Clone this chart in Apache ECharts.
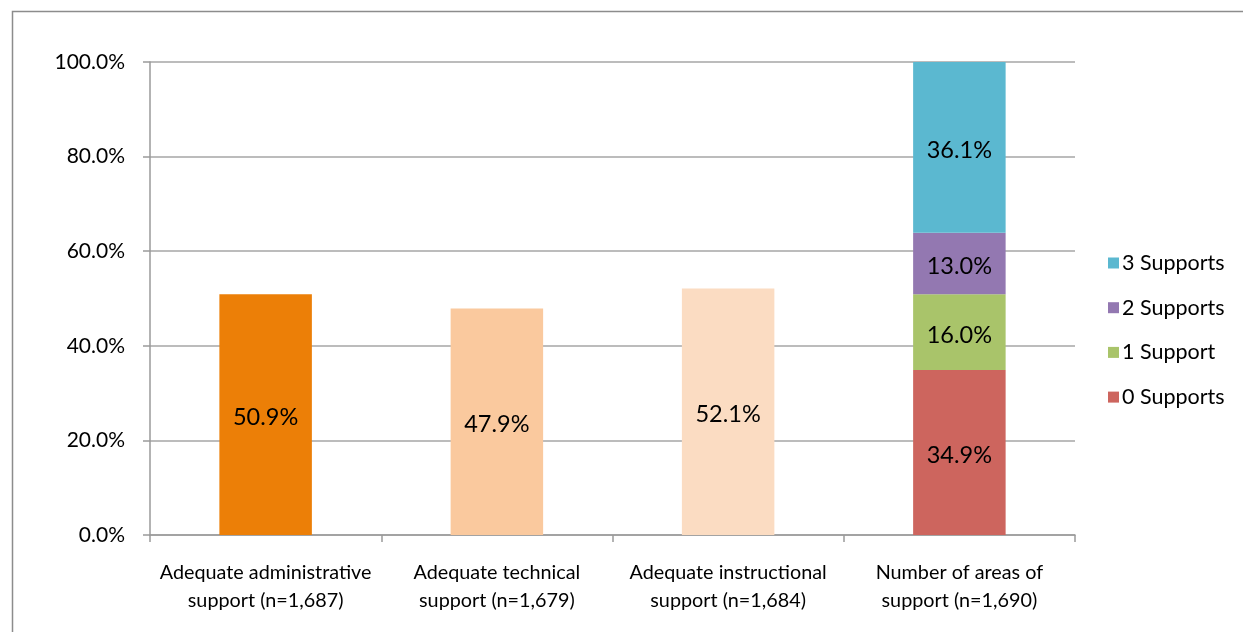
<!DOCTYPE html>
<html>
<head>
<meta charset="utf-8">
<script src="https://cdn.jsdelivr.net/npm/echarts@6/dist/echarts.min.js"></script>
<style>
  html, body { margin: 0; padding: 0; background: #fff; }
  #chart { width: 1243px; height: 632px; }
</style>
</head>
<body>
<div id="chart"></div>
<script>
// Categories along the x axis
const categories = [
  'Adequate administrative\nsupport (n=1,687)',
  'Adequate technical\nsupport (n=1,679)',
  'Adequate instructional\nsupport (n=1,684)',
  'Number of areas of\nsupport (n=1,690)'
];

// Single-bar percentages for the three "adequate support" categories
const adequateValues = [50.9, 47.9, 52.1];
const adequateColors = ['#EC7F07', '#FAC99E', '#FBDCC2'];

// Stacked breakdown for the number of areas of support
const supportNames = ['0 Supports', '1 Support', '2 Supports', '3 Supports'];
const supportValues = [34.9, 16.0, 13.0, 36.1];
const supportColors = ['#CD655E', '#A9C46A', '#9378B1', '#5BB8D0'];

// Y axis ticks
const yMin = 0, yMax = 100, yStep = 20;

const fontFamily = 'Lato, "Open Sans", sans-serif';
const labelStyle = {
  show: true,
  position: 'inside',
  offset: [0, 3],
  color: '#000',
  fontSize: 23.5,
  fontFamily: fontFamily,
  formatter: p => p.value.toFixed(1) + '%'
};

const series = [{
  name: 'Adequate',
  type: 'bar',
  stack: 'all',
  barWidth: '40%',
  label: labelStyle,
  data: adequateValues.map((v, i) => ({ value: v, itemStyle: { color: adequateColors[i] } }))
    .concat(['-'])
}];
supportNames.forEach((name, i) => {
  const data = categories.map((c, j) => j === categories.length - 1 ? supportValues[i] : '-');
  series.push({
    name: name,
    type: 'bar',
    stack: 'all',
    barWidth: '40%',
    itemStyle: { color: supportColors[i] },
    label: labelStyle,
    data: data
  });
});

const chart = echarts.init(document.getElementById('chart'), null, { renderer: 'canvas' });
chart.setOption({
  animation: false,
  backgroundColor: '#fff',
  textStyle: { fontFamily: fontFamily },
  graphic: [{
    type: 'rect',
    shape: { x: 12.5, y: 11.5, width: 1300, height: 700 },
    style: { fill: 'none', stroke: '#8c8c8c', lineWidth: 1.5 },
    silent: true
  }],
  grid: { left: 150, right: 168, top: 62, bottom: 97 },
  legend: {
    orient: 'vertical',
    left: 1103,
    top: 247,
    itemWidth: 11,
    itemHeight: 11,
    itemGap: 22.7,
    icon: 'rect',
    data: ['3 Supports', '2 Supports', '1 Support', '0 Supports'],
    textStyle: { color: '#000', fontSize: 21.5, fontFamily: fontFamily, padding: [0, 0, 0, -2] }
  },
  xAxis: {
    type: 'category',
    data: categories,
    axisLine: { lineStyle: { color: '#9a9a9a', width: 1.5 } },
    axisTick: { show: true, length: 7, lineStyle: { color: '#9a9a9a', width: 1.5 } },
    axisLabel: {
      interval: 0,
      color: '#000', fontSize: 19.8, lineHeight: 28, margin: 24,
      fontFamily: fontFamily
    }
  },
  yAxis: {
    type: 'value',
    min: yMin, max: yMax, interval: yStep,
    axisLine: { show: true, lineStyle: { color: '#9a9a9a', width: 1.5 } },
    axisTick: { show: true, length: 7, lineStyle: { color: '#9a9a9a', width: 1.5 } },
    splitLine: { lineStyle: { color: '#a6a6a6', width: 1.5 } },
    axisLabel: {
      color: '#000', fontSize: 21, margin: 25, fontFamily: fontFamily,
      padding: [8, 0, 0, 0],
      formatter: v => v.toFixed(1) + '%'
    }
  },
  series: series
});
</script>
</body>
</html>
